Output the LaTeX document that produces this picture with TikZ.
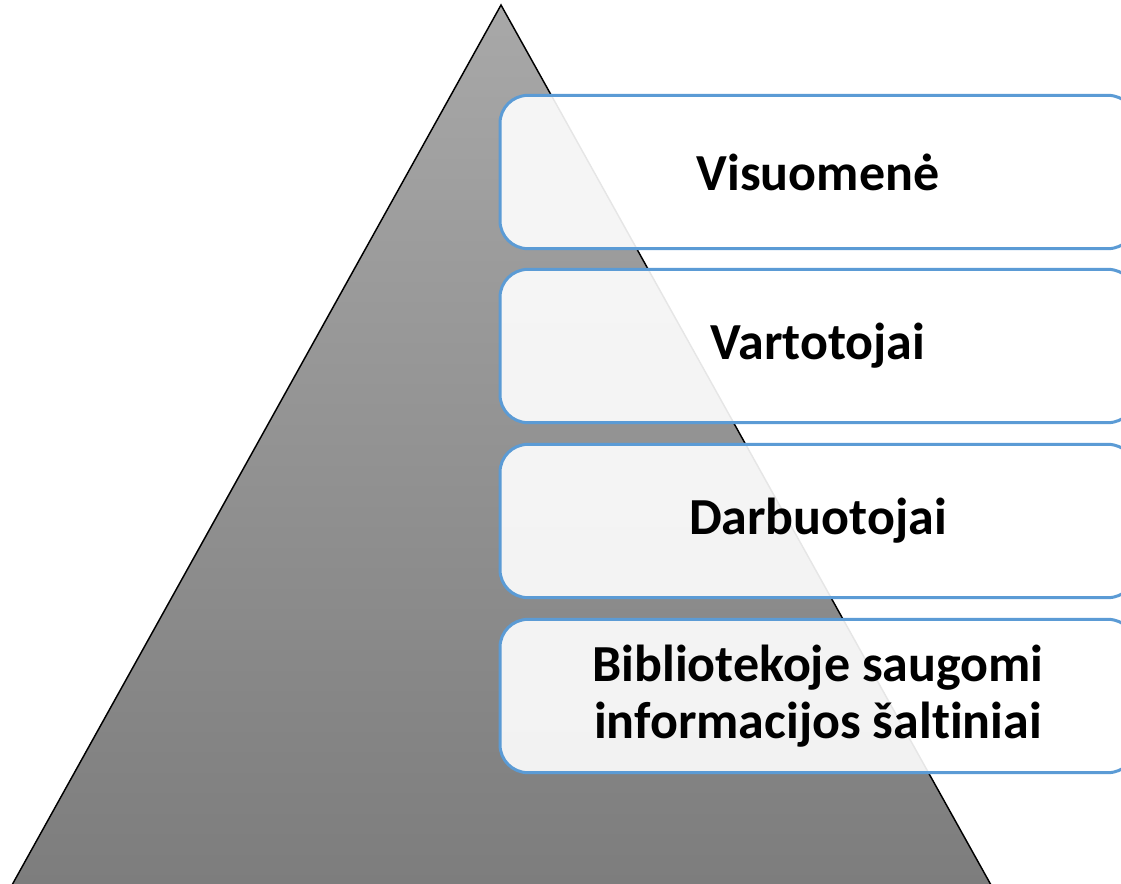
\documentclass[tikz,border=0pt]{standalone}
\usepackage{fontspec}
\setmainfont{Carlito}[RawFeature=-liga]
\definecolor{boxblue}{RGB}{91,155,213}
\definecolor{pyrtop}{RGB}{168,168,168}
\definecolor{pyrbot}{RGB}{125,125,125}
\tikzset{
  level/.style={draw=boxblue, line width=2.25pt, fill=white, fill opacity=0.9,
    text opacity=1, rounded corners=21pt, minimum width=477pt,
    minimum height=115pt, align=center,
    font=\fontsize{39}{43}\selectfont\bfseries},
}
\begin{document}
\begin{tikzpicture}[x=0.75pt,y=-0.75pt]
        \useasboundingbox (0,0) rectangle (1121,883);
        % pyramid
        \coordinate (apex) at (501,5);
        \coordinate (right) at (991,885);
        \coordinate (left) at (12,885);
        \draw [black, line width=1.1pt, top color=pyrtop, bottom color=pyrbot] (apex) -- (right) -- (left) -- cycle;
        % levels
        \node [level] (visuomene) at (818,172) {Visuomenė};
        \node [level] (vartotojai) at (818,346) {Vartotojai};
        \node [level] (darbuotojai) at (818,521) {Darbuotojai};
        \node [level] (saltiniai) at (818,696) {Bibliotekoje saugomi\\informacijos šaltiniai};
        \end{tikzpicture}
\end{document}
